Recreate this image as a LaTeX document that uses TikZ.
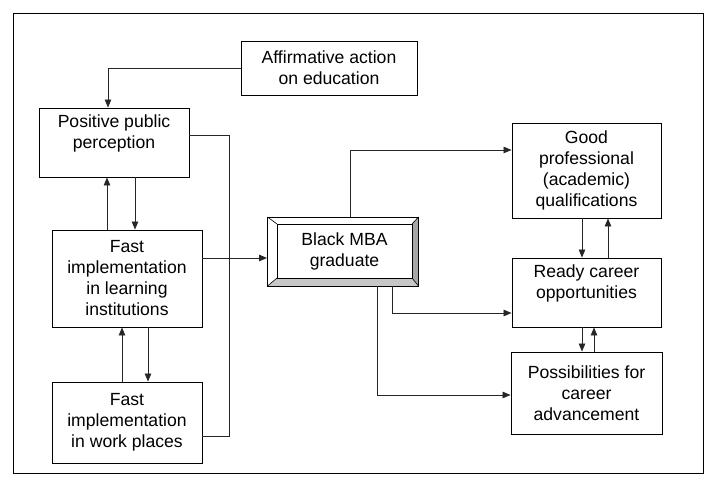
\documentclass[tikz,border=0pt]{standalone}
\usepackage{fontspec}
\setmainfont{Liberation Sans}
\usetikzlibrary{arrows.meta}
\begin{document}
\begin{tikzpicture}[x=1pt,y=-1pt,
  line/.style={draw=black!85, line width=0.8pt},
  arr/.style={line, -{Triangle[length=8pt,width=6.5pt]}},
  box/.style={draw=black, line width=0.9pt, fill=white, align=center, inner sep=0pt,
    font=\fontsize{17.6pt}{21pt}\selectfont},
]
\useasboundingbox (0,0) rectangle (715,486);
\draw[line width=1pt] (13,14) rectangle (703,473);

\node[box, minimum width=176pt, minimum height=54pt] (aff) at (329,68) {Affirmative action\\on education};
\node[box, minimum width=150pt, minimum height=69pt] (ppp) at (114,142.5) {Positive public\\perception\\[-6pt]\strut};
\node[box, minimum width=150pt, minimum height=97pt] (fil) at (127,278.5) {Fast\\implementation\\in learning\\institutions};
\node[box, minimum width=150pt, minimum height=81pt] (fiw) at (127,422.5) {Fast\\implementation\\in work places};

% bevelled box
\node[draw=black, line width=0.9pt, minimum width=151pt, minimum height=69pt, inner sep=0pt] (mba) at (343,251.5) {};
\fill[white] (267.5,217) -- (418.5,217) -- (412,224) -- (277,224) -- cycle;
\fill[white] (267.5,217) -- (277,224) -- (277,278) -- (267.5,286) -- cycle;
\fill[black!35] (418.5,217) -- (418.5,286) -- (412,278) -- (412,224) -- cycle;
\fill[black!22] (267.5,286) -- (418.5,286) -- (412,278) -- (277,278) -- cycle;
\draw[line width=0.6pt] (267.5,217) -- (277,224) (418.5,217) -- (412,224) (418.5,286) -- (412,278) (267.5,286) -- (277,278);
\draw[line width=0.9pt] (267.5,217) rectangle (418.5,286);
\node[draw=black, line width=0.9pt, fill=white, minimum width=135pt, minimum height=54pt, inner sep=0pt, align=center,
  font=\fontsize{17.6pt}{21pt}\selectfont] (mbain) at (344.5,251) {Black MBA\\graduate};

\node[box, minimum width=149pt, minimum height=95pt] (good) at (586.5,170.5) {Good\\professional\\(academic)\\qualifications};
\node[box, minimum width=149pt, minimum height=69pt] (ready) at (586.5,292.5) {Ready career\\opportunities\\[-6pt]\strut};
\node[box, minimum width=151pt, minimum height=82pt] (poss) at (586.5,393) {Possibilities for\\career\\advancement};

% left side connectors
\draw[arr] (aff.west) -| ([xshift=-6pt]ppp.north);
\draw[arr] ([xshift=-20pt]fil.north) -- ([xshift=-7pt]ppp.south);
\draw[arr] ([xshift=21pt]ppp.south) -- ([xshift=8pt]fil.north);
\draw[arr] ([xshift=-5pt]fiw.north) -- ([xshift=-5pt]fil.south);
\draw[arr] ([xshift=21pt]fil.south) -- ([xshift=21pt]fiw.north);

\coordinate (c1) at (229,135);
\coordinate (c2) at (229,436);
\coordinate (c3) at ([yshift=-13.5pt]fiw.east);
\draw[line] ([yshift=7.5pt]ppp.east) -- (c1) -- (c2) -- (c3);

\coordinate (a1) at ([yshift=20.5pt]fil.east);
\draw[arr] (a1) -- (a1 -| mba.west);

% right side connectors
\coordinate (g1) at ([yshift=20.5pt]good.west);
\draw[arr] ([xshift=7pt]mba.north) |- (g1);
\coordinate (r1) at ([yshift=-20.5pt]ready.west);
\draw[arr] ([xshift=49pt]mba.south) |- (r1);
\coordinate (p1) at ([yshift=-2pt]poss.west);
\draw[arr] ([xshift=34pt]mba.south) |- (p1);

\draw[arr] ([xshift=-4.5pt]good.south) -- ([xshift=-4.5pt]ready.north);
\draw[arr] ([xshift=21.5pt]ready.north) -- ([xshift=21.5pt]good.south);
\draw[arr] ([xshift=-4.5pt]ready.south) -- ([xshift=-4.5pt]poss.north);
\draw[arr] ([xshift=7.5pt]poss.north) -- ([xshift=7.5pt]ready.south);
\end{tikzpicture}
\end{document}
